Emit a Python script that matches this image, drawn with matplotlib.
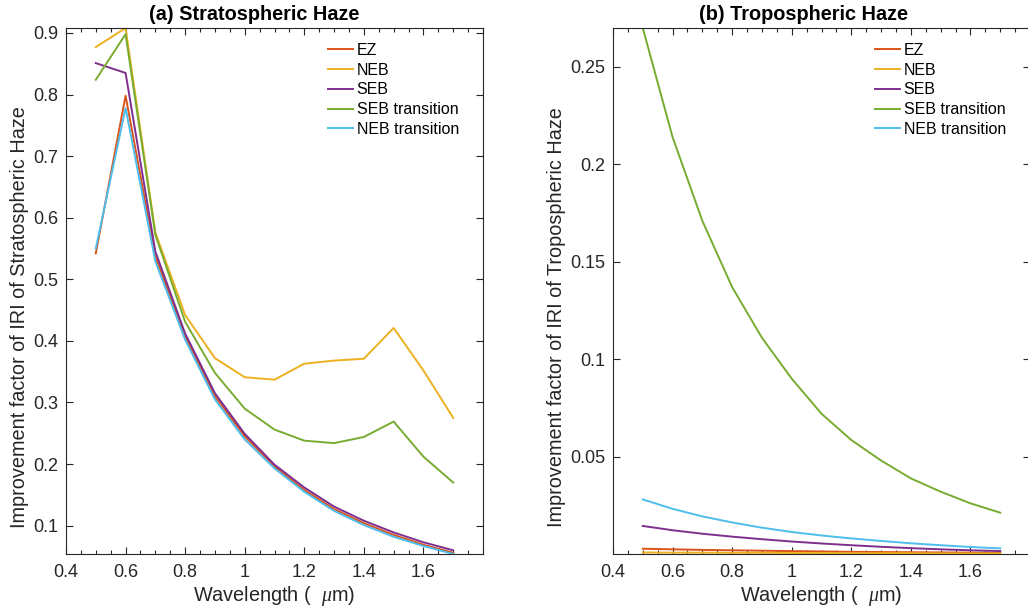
import numpy as np
import matplotlib
matplotlib.use('Agg')
import matplotlib.pyplot as plt
from matplotlib.ticker import MultipleLocator

plt.rcParams['font.family'] = ['Liberation Sans', 'DejaVu Sans']
plt.rcParams['mathtext.fontset'] = 'custom'
plt.rcParams['mathtext.it'] = 'Liberation Serif:italic'

wl = [0.5, 0.6, 0.7, 0.8, 0.9, 1.0, 1.1, 1.2, 1.3, 1.4, 1.5, 1.6, 1.7]
names = ['EZ', 'NEB', 'SEB', 'SEB transition', 'NEB transition']
colors = ['#D95319', '#EDB120', '#7E2F8E', '#77AC30', '#4DBEEE']

# (a) stratospheric haze
strat_ez   = [0.542, 0.798, 0.537, 0.407, 0.310, 0.245, 0.196, 0.158, 0.127, 0.104, 0.085, 0.069, 0.056]
strat_neb  = [0.877, 0.908, 0.576, 0.442, 0.372, 0.341, 0.337, 0.363, 0.368, 0.371, 0.421, 0.352, 0.275]
strat_seb  = [0.851, 0.835, 0.545, 0.412, 0.315, 0.249, 0.199, 0.162, 0.131, 0.108, 0.089, 0.073, 0.060]
strat_sebt = [0.824, 0.898, 0.572, 0.431, 0.348, 0.290, 0.256, 0.238, 0.234, 0.244, 0.269, 0.212, 0.170]
strat_nebt = [0.550, 0.778, 0.529, 0.402, 0.305, 0.240, 0.193, 0.155, 0.124, 0.101, 0.082, 0.067, 0.054]

# (b) tropospheric haze
trop_ez   = [0.0027, 0.0024, 0.0021, 0.0019, 0.0017, 0.0015, 0.0013, 0.0011, 0.0010, 0.0009, 0.0008, 0.0007, 0.0006]
trop_neb  = [0.0008, 0.0007, 0.0007, 0.0006, 0.0006, 0.0005, 0.0005, 0.0004, 0.0004, 0.0004, 0.0003, 0.0003, 0.0003]
trop_seb  = [0.0144, 0.0122, 0.0104, 0.0089, 0.0076, 0.0064, 0.0054, 0.0045, 0.0037, 0.0030, 0.0024, 0.0019, 0.0015]
trop_sebt = [0.270, 0.214, 0.171, 0.137, 0.111, 0.090, 0.072, 0.0585, 0.048, 0.0388, 0.032, 0.026, 0.0212]
trop_nebt = [0.0280, 0.0232, 0.0193, 0.0162, 0.0135, 0.0113, 0.0095, 0.0080, 0.0067, 0.0055, 0.0045, 0.0036, 0.0029]

xticks = [0.4, 0.6, 0.8, 1.0, 1.2, 1.4, 1.6]
xticklabels = ['0.4', '0.6', '0.8', '1', '1.2', '1.4', '1.6']
yticks_a = [0.1, 0.2, 0.3, 0.4, 0.5, 0.6, 0.7, 0.8, 0.9]
yticks_b = [0.05, 0.1, 0.15, 0.2, 0.25]

fig = plt.figure(figsize=(10.28, 6.11), dpi=100)
ax1 = fig.add_axes([66/1028, 57/611, 417/1028, 526/611])
ax2 = fig.add_axes([613/1028, 57/611, 417/1028, 526/611])

grey = '#262626'

def style(ax, series, yticks, ylim, title, ylabel, ylab_x, title_x):
    for s, c, n in zip(series, colors, names):
        ax.plot(wl, s, color=c, lw=1.4, label=n)
    ax.set_xlim(0.4, 1.8)
    ax.set_ylim(*ylim)
    ax.set_xticks(xticks)
    ax.set_xticklabels(xticklabels)
    ax.set_yticks(yticks)
    ax.set_yticklabels([('%g' % t) for t in yticks])
    ax.xaxis.set_minor_locator(MultipleLocator(0.05))
    ax.tick_params(which='both', direction='in', top=True, right=True,
                   colors=grey, labelsize=13, labelcolor=grey, width=0.8)
    ax.tick_params(which='major', length=5)
    ax.tick_params(which='minor', length=3)
    ax.tick_params(axis='x', pad=7.5)
    ax.tick_params(axis='y', pad=5.5)
    for sp in ax.spines.values():
        sp.set_color(grey)
        sp.set_linewidth(0.8)
    ax.set_title(title, fontsize=14.3, fontweight='bold', pad=6, x=title_x)
    ax.set_xlabel('Wavelength (  $\\mu$m)', fontsize=14.3, color=grey, labelpad=2)
    ax.set_ylabel(ylabel, fontsize=14.3, color=grey)
    ax.yaxis.set_label_coords(ylab_x, 0.45)
    ax.legend(loc='upper left', bbox_to_anchor=(0.628, 0.972), frameon=False,
              fontsize=11.5, handlelength=1.6, handletextpad=0.2,
              labelspacing=0.3, borderpad=0, borderaxespad=0)

style(ax1, [strat_ez, strat_neb, strat_seb, strat_sebt, strat_nebt], yticks_a,
      (0.054, 0.908), '(a) Stratospheric Haze',
      'Improvement factor of IRI of Stratospheric Haze', -0.088, 0.451)
style(ax2, [trop_ez, trop_neb, trop_seb, trop_sebt, trop_nebt], yticks_b,
      (0, 0.27), '(b) Tropospheric Haze',
      'Improvement factor of IRI of Tropospheric Haze', -0.112, 0.456)

fig.savefig('out.png', dpi=100)
